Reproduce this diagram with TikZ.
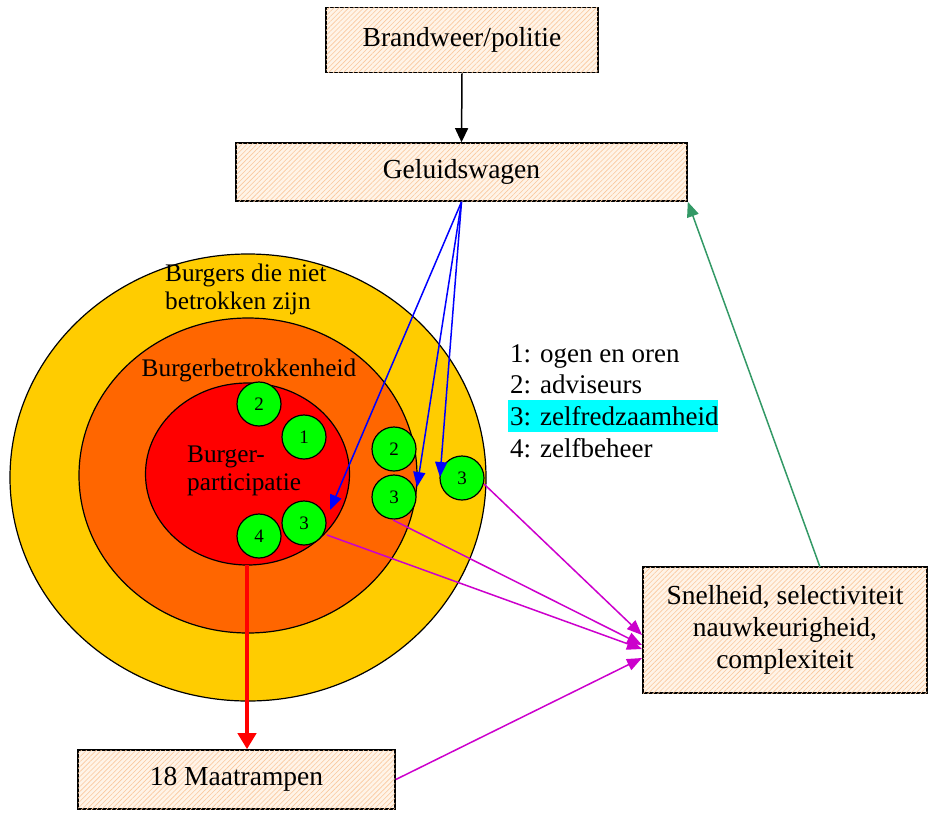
\documentclass[tikz,border=0pt]{standalone}
\usepackage{fontspec}
\setmainfont{Liberation Serif}
\usetikzlibrary{arrows.meta,patterns.meta}
\definecolor{cyellow}{RGB}{255,204,0}
\definecolor{corange}{RGB}{255,102,0}
\definecolor{cred}{RGB}{255,0,0}
\definecolor{cgreen}{RGB}{0,255,0}
\definecolor{ccyan}{RGB}{0,255,255}
\definecolor{cmag}{RGB}{204,0,204}
\definecolor{cteal}{RGB}{51,153,102}
\definecolor{hatchbg}{RGB}{255,244,232}
\definecolor{hatchln}{RGB}{250,200,158}
\tikzset{
  hbox/.style={draw=black,line width=1.6pt,fill=hatchbg,
    postaction={pattern={Lines[angle=45,distance=3.5pt,line width=0.6pt]},pattern color=hatchln},
    font=\fontsize{27.5}{32}\selectfont,align=center,inner sep=0pt},
  gc/.style={circle,draw=black,line width=1.2pt,fill=cgreen,minimum size=44pt,inner sep=0pt,
    font=\fontsize{19}{20}\selectfont},
  ring/.style={draw=black,line width=1.2pt},
  lbl/.style={font=\fontsize{25.3}{28}\selectfont,inner sep=0pt},
  leg/.style={font=\fontsize{27}{32}\selectfont,inner sep=0pt,anchor=base west},
  blar/.style={draw=blue,line width=1.5pt,-{Triangle[length=15pt,width=12pt]}},
  mgar/.style={draw=cmag,line width=1.5pt,-{Triangle[length=15pt,width=12pt]}},
}
\begin{document}
\begin{tikzpicture}[x=1pt,y=-1pt]
\useasboundingbox (0,0) rectangle (929,812);
% boxes
\node[hbox,minimum width=272pt,minimum height=65pt] (brand) at (462,40) {Brandweer/politie};
\node[hbox,minimum width=451pt,minimum height=58pt] (geluid) at (461.5,172) {Geluidswagen};
\node[hbox,minimum width=284pt,minimum height=126pt] (snel) at (785,630) {Snelheid, selectiviteit\\nauwkeurigheid,\\complexiteit};
\node[hbox,minimum width=317pt,minimum height=59pt] (maat) at (236.5,779.5) {18 Maatrampen};
% rings
\draw[ring,fill=cyellow] (248,477.5) ellipse [x radius=238, y radius=223.5];
\draw[ring,fill=corange] (248,475.5) ellipse [x radius=169, y radius=157.5];
\draw[ring,fill=cred] (247.5,474) ellipse [x radius=102, y radius=91];
\coordinate (redbot) at (247,565);
% labels
\node[lbl,anchor=west,align=left] (lb1) at (165,289) {Burgers die niet\\betrokken zijn};
\node[lbl] (lb2) at (249,370) {Burgerbetrokkenheid};
\node[lbl,anchor=west,align=left] (lb3) at (187,471) {Burger-\\participatie};
% green circles
\node[gc] (c2i) at (259,404) {2};
\node[gc] (c1) at (304,437) {1};
\node[gc] (c4) at (259,536) {4};
\node[gc] (c3i) at (304,523) {3};
\node[gc] (c2o) at (394,449) {2};
\node[gc] (c3o) at (394,497) {3};
\node[gc] (c3y) at (462,478) {3};
% legend
\fill[ccyan] (508,400) rectangle (718,432);
\node[leg] (lg1) at (510,362) {1: ogen en oren};
\node[leg] (lg2) at (510,393) {2: adviseurs};
\node[leg] (lg3) at (510,425) {3: zelfredzaamheid};
\node[leg] (lg4) at (510,457) {4: zelfbeheer};
% arrows
\draw[line width=1.5pt,-{Triangle[length=14pt,width=13pt]}] (brand.south) -- (geluid.north);
\coordinate (bt1) at (330,510);
\coordinate (bt2) at (417,487);
\coordinate (bt3) at (440,477);
\draw[blar] (geluid.south) -- (bt1);
\draw[blar] (geluid.south) -- (bt2);
\draw[blar] (geluid.south) -- (bt3);
\draw[draw=cred,line width=4pt,-{Triangle[length=16pt,width=18pt]}] (redbot) -- (redbot |- maat.north);
\coordinate (m1s) at (484,484);
\coordinate (m2s) at (393,520);
\coordinate (m3s) at (327,535);
\coordinate (m1e) at (642,635);
\coordinate (m2e) at (642,645);
\coordinate (m3e) at (642,649);
\coordinate (m4e) at (642,658);
\draw[mgar] (m1s) -- (m1e);
\draw[mgar] (m2s) -- (m2e);
\draw[mgar] (m3s) -- (m3e);
\draw[mgar] (maat.east) -- (m4e);
\coordinate (gs) at (820,567);
\draw[draw=cteal,line width=1.5pt,-{Triangle[length=15pt,width=12pt]}] (gs) -- (geluid.south east);
\end{tikzpicture}
\end{document}
